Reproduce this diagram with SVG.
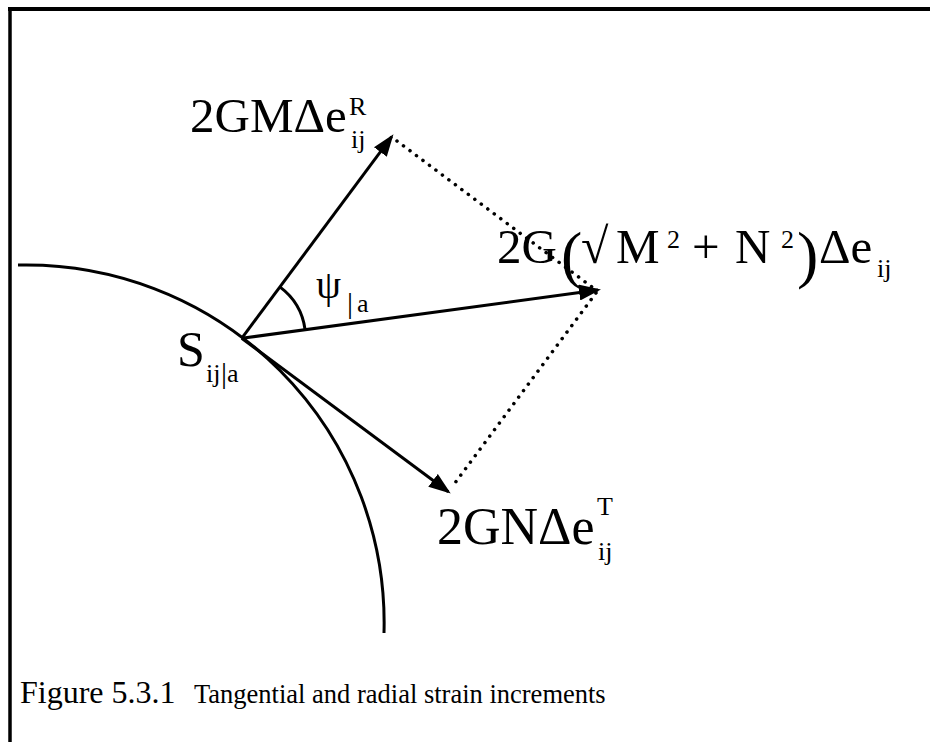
<svg xmlns="http://www.w3.org/2000/svg" width="930" height="742" viewBox="0 0 930 742">
<style>
  text { font-family: "Liberation Serif", "Times New Roman", serif; fill: #000; }
  .main { font-size: 49px; }
  .idx { font-size: 26px; }
  .bar { font-size: 30px; }
  .vec { stroke: #000; stroke-width: 3; fill: none; }
  .dot { stroke: #000; stroke-width: 3.5; fill: none; stroke-dasharray: 0.1 8; stroke-linecap: round; }
  .frame { stroke: #000; fill: none; }
</style>
<defs>
  <marker id="ah" viewBox="0 0 22 16" refX="19" refY="8" markerWidth="22" markerHeight="16" markerUnits="userSpaceOnUse" orient="auto">
    <path d="M0,0 L22,8 L0,16 z" fill="#000"/>
  </marker>
</defs>
<rect width="930" height="742" fill="#fff"/>
<g id="frame">
  <line class="frame" x1="8" y1="9" x2="930" y2="9" stroke-width="4"/>
  <line class="frame" x1="10" y1="7" x2="10" y2="742" stroke-width="3.5"/>
</g>
<g id="surface">
  <path class="vec" d="M 18 265 A 358 358 0 0 1 384 633"/>
</g>
<g id="connectors">
  <line class="vec" x1="241.7" y1="338.3" x2="391.7" y2="136.7" marker-end="url(#ah)"/>
  <line class="vec" x1="241.7" y1="338.3" x2="598" y2="290" marker-end="url(#ah)"/>
  <line class="vec" x1="241.7" y1="338.3" x2="448.3" y2="491.7" marker-end="url(#ah)"/>
  <line class="dot" x1="397" y1="141" x2="596" y2="290"/>
  <line class="dot" x1="596" y1="293" x2="452" y2="487"/>
  <path class="vec" d="M 305.1 329.7 A 64 64 0 0 0 279.8 286.9"/>
</g>
<g id="label-radial">
  <text class="main" x="190" y="131.5">2GMΔe</text>
  <text class="idx" x="349" y="115">R</text>
  <text class="idx" x="351" y="148">ij</text>
</g>
<g id="label-resultant">
  <text class="main" x="497" y="263">2G</text>
  <text x="561" y="276" font-size="64">(</text>
  <text x="581" y="263" font-size="50">√</text>
  <text class="main" x="616" y="263">M</text>
  <text class="idx" x="667" y="248">2</text>
  <text class="main" x="692" y="263">+</text>
  <text class="main" x="735" y="263">N</text>
  <text class="idx" x="781" y="248">2</text>
  <text x="797" y="276" font-size="64">)</text>
  <text class="main" x="819" y="263">Δe</text>
  <text class="idx" x="877" y="277">ij</text>
</g>
<g id="label-tangential">
  <text x="437" y="544" font-size="52">2GNΔe</text>
  <text class="idx" x="597" y="515">T</text>
  <text class="idx" x="598" y="560">ij</text>
</g>
<g id="label-stress">
  <text x="177" y="366" font-size="50">S</text>
  <text class="idx" x="206" y="382">ij</text>
  <text class="bar" x="221" y="383">|</text>
  <text class="idx" x="227" y="382">a</text>
</g>
<g id="label-angle">
  <text x="316" y="298" font-size="40">ψ</text>
  <text class="bar" x="347" y="313">|</text>
  <text class="idx" x="357" y="312">a</text>
</g>
<g id="caption">
  <text x="20" y="703" font-size="32">Figure 5.3.1</text>
  <text x="194" y="703" font-size="26.5">Tangential and radial strain increments</text>
</g>
</svg>
